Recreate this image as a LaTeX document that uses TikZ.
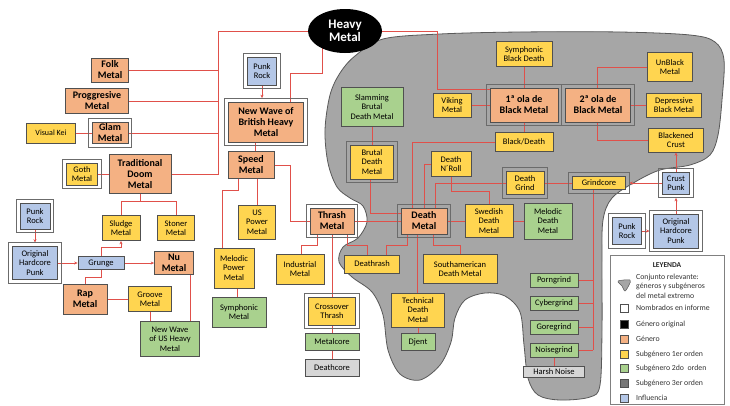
\documentclass[tikz,border=0pt]{standalone}
\usepackage{fontspec}
\setmainfont{Carlito}
\usetikzlibrary{arrows.meta,calc,shapes.geometric}
\definecolor{orng}{HTML}{F4B183}
\definecolor{yel}{HTML}{FFD550}
\definecolor{grn}{HTML}{A9D18E}
\definecolor{blu}{HTML}{B4C7E7}
\definecolor{blobc}{HTML}{A6A6A6}
\definecolor{blobline}{HTML}{595959}
\definecolor{lgray}{HTML}{D6D6D6}
\definecolor{dgray}{HTML}{777777}
\definecolor{redl}{HTML}{E0504A}
\definecolor{boxc}{HTML}{505050}
\definecolor{framec}{HTML}{6B6B6B}
\pgfdeclarelayer{blobl}
\pgfdeclarelayer{edges}
\pgfsetlayers{blobl,edges,main}
\begin{document}
\begin{tikzpicture}[x=1pt,y=-1pt,
  box/.style={draw=boxc, line width=0.7pt, align=center, inner sep=1pt, text=black, font=\fontsize{8.5}{9.3}\selectfont},
  gen/.style={box, fill=orng, font=\bfseries\fontsize{10}{11}\selectfont},
  sub1/.style={box, fill=yel},
  sub2/.style={box, fill=grn},
  sub3/.style={box, fill=lgray},
  inf/.style={box, fill=blu},
  ln/.style={draw=redl, line width=0.6pt},
  arr/.style={ln, -{Stealth[length=3.5pt,width=3pt]}},
  frame/.style={draw=framec, line width=0.9pt},
  sz/.style 2 args={minimum width=#1, minimum height=#2},
  legt/.style={anchor=west, inner sep=0pt, text=black!80, font=\fontsize{7.8}{9.5}\selectfont, align=left},
  legi/.style={draw=boxc, line width=0.6pt, minimum size=8, inner sep=0pt}
]
\useasboundingbox (0,0) rectangle (730,405);

% background and blob of extreme metal
\begin{pgfonlayer}{blobl}
\fill[white] (0,0) rectangle (730,405);
\draw[fill=blobc, draw=blobline, line width=0.8pt] plot[smooth cycle, tension=0.55] coordinates {
(383,39) (440,34) (520,32) (620,32) (690,35) (715,42) (724,60) (722,100) (718,135) (710,155) (690,165) (660,170) (635,182) (612,198) (603,220) (602,260) (602,330) (600,385) (590,397) (560,400) (538,395) (528,378) (524,345) (520,312) (505,296) (485,293) (465,300) (455,318) (451,342) (440,365) (420,380) (400,374) (388,350) (383,315) (372,292) (352,277) (339,262) (343,247) (358,238) (367,222) (363,206) (350,198) (337,187) (328,163) (325,130) (330,95) (340,73) (355,56)};
\end{pgfonlayer}

% nodes
\node[ellipse, fill=black, minimum width=74, minimum height=44, inner sep=0pt, text=white, align=center, font=\bfseries\fontsize{13}{13.5}\selectfont] (hm) at (345,31) {Heavy\\Metal};

\node[gen, sz={37}{24}] (folk) at (110,70) {Folk\\Metal};
\node[gen, sz={63}{25}] (prog) at (97,101) {Proggresive\\Metal};
\node[gen, sz={36}{21}] (glam) at (110,133) {Glam\\Metal};
\node[sub1, sz={49}{20}, font=\fontsize{8}{9}\selectfont] (vk) at (51,133) {Visual Kei};
\node[gen, sz={62}{39}] (doom) at (140,174) {Traditional\\Doom\\Metal};
\node[sub1, sz={31}{22}] (goth) at (82,174) {Goth\\Metal};
\node[sub1, sz={38}{25}] (sludge) at (121,228) {Sludge\\Metal};
\node[sub1, sz={37}{25}] (stoner) at (176,228) {Stoner\\Metal};
\node[inf, sz={30}{26}] (punkl) at (35,216) {Punk\\Rock};
\node[inf, sz={45}{33}] (ohpl) at (35,263) {Original\\Hardcore\\Punk};
\node[inf, sz={46}{13}] (grunge) at (101,263) {Grunge};
\node[gen, sz={39}{23}] (nu) at (174,263) {Nu\\Metal};
\node[gen, sz={44}{30}] (rap) at (85,299) {Rap\\Metal};
\node[sub1, sz={43}{25}] (groove) at (150,299) {Groove\\Metal};
\node[sub2, sz={59}{35}] (nwus) at (170,339) {New Wave\\of US Heavy\\Metal};

\node[inf, sz={29}{28}] (punkt) at (262,71) {Punk\\Rock};
\node[gen, sz={75}{40}] (nwob) at (266,122) {New Wave of\\British Heavy\\Metal};
\node[gen, sz={46}{27}] (speed) at (251,165) {Speed\\Metal};
\node[sub1, sz={37}{34}] (uspow) at (257,222) {US\\Power\\Metal};
\node[sub1, sz={40}{40}] (mpm) at (234,268) {Melodic\\Power\\Metal};
\node[sub2, sz={54}{30}] (symph) at (239,312) {Symphonic\\Metal};
\node[gen, sz={44}{26}] (thrash) at (332,221) {Thrash\\Metal};
\node[sub1, sz={48}{30}] (indus) at (300,269) {Industrial\\Metal};
\node[sub1, sz={55}{18}] (deathrash) at (372,264) {Deathrash};
\node[sub1, sz={47}{28}] (cross) at (332,311) {Crossover\\Thrash};
\node[sub2, sz={54}{17}] (metalcore) at (332,342) {Metalcore};
\node[sub3, sz={54}{17}] (deathcore) at (332,368) {Deathcore};

\node[sub2, sz={62}{39}] (slam) at (372,107) {Slamming\\Brutal\\Death Metal};
\node[sub1, sz={43}{34}] (brutal) at (372,162) {Brutal\\Death\\Metal};
\node[gen, sz={46}{26}] (death) at (424,221) {Death\\Metal};
\node[sub1, sz={74}{29}] (south) at (460,269) {Southamerican\\Death Metal};
\node[sub1, sz={53}{34}] (tdm) at (418,310) {Technical\\Death\\Metal};
\node[sub2, sz={34}{17}] (djent) at (418,342) {Djent};
\node[sub1, sz={38}{24}] (viking) at (452,105) {Viking\\Metal};
\node[gen, sz={68}{34}] (first) at (524,105) {1ª ola de\\Black Metal};
\node[gen, sz={65}{34}] (second) at (598,105) {2ª ola de\\Black Metal};
\node[sub1, sz={56}{25}] (sbd) at (524,54) {Symphonic\\Black Death};
\node[sub1, sz={58}{19}] (bd) at (524,142) {Black/Death};
\node[sub1, sz={45}{29}] (unblack) at (670,67) {UnBlack\\Metal};
\node[sub1, sz={55}{24}] (depr) at (674,105) {Depressive\\Black Metal};
\node[sub1, sz={55}{24}] (bcrust) at (676,140) {Blackened\\Crust};
\node[sub1, sz={40}{25}] (dnr) at (451,164) {Death\\N´Roll};
\node[sub1, sz={48}{33}] (swed) at (489,221) {Swedish\\Death\\Metal};
\node[sub2, sz={48}{36}] (melo) at (548,221) {Melodic\\Death\\Metal};
\node[sub1, sz={38}{23}] (dgrind) at (525,183) {Death\\Grind};
\node[sub1, sz={53}{13}] (grind) at (599,183) {Grindcore};
\node[inf, sz={27}{22}] (crust) at (676,183) {Crust\\Punk};
\node[inf, sz={45}{34}] (ohpr) at (676,231) {Original\\Hardcore\\Punk};
\node[inf, sz={29}{27}] (punkr) at (627,231) {Punk\\Rock};
\node[sub2, sz={48}{14}] (porn) at (554,280) {Porngrind};
\node[sub2, sz={48}{14}] (cyber) at (554,303) {Cybergrind};
\node[sub2, sz={48}{14}] (gore) at (554,327) {Goregrind};
\node[sub2, sz={48}{14}] (noise) at (554,350) {Noisegrind};
\node[sub3, sz={61}{11}] (harsh) at (554,372) {Harsh Noise};

% frames for "nombrados en informe"
\foreach \n in {glam,goth,punkl,ohpl,punkt,nwob,thrash,cross,brutal,death,first,second,dgrind,grind,crust,ohpr,punkr}
  \draw[frame] ($(\n.north west)+(-3.5pt,3.5pt)$) rectangle ($(\n.south east)+(3.5pt,-3.5pt)$);

% helper coordinates
\foreach \v in {190,218,222,237,238,255,290,301,317,322,347,367,370,386,407,412,417,424,433,435,437,593,597}
  \coordinate (x\v) at (\v,0);
\foreach \v in {73,89,190,191,201,213,245,247,277}
  \coordinate (y\v) at (0,\v);

% connectors
\begin{pgfonlayer}{edges}
\draw[ln] (hm) -| (doom.east -| x218) -- (doom.east);
\foreach \n in {folk,prog,glam} \draw[ln] (\n.east) -- (\n.east -| x218);
\draw[ln] (vk) -- (glam);
\draw[ln] (goth) -- (doom);
\draw[ln] (doom.south) -- (doom.south |- y201) -| (sludge.north);
\draw[ln] (doom.south |- y201) -| (stoner.north);
\draw[arr, shorten >=3.5pt] (punkl.south) -- (ohpl.north);
\draw[arr] (ohpl.east) -- (grunge.west);
\draw[arr] (grunge.east) -- (nu.west);
\draw[arr] (grunge.north) -- (grunge.north |- y247) -| (sludge.south);
\draw[ln] (grunge.south) -- (grunge.south |- y277) -| (rap.north);
\draw[ln] (rap) -- (groove);
\draw[ln] (groove) -- (groove |- nwus.north);
\draw[ln] (nu.south -| x190) -- (nwus.north -| x190);

\draw[ln] (hm.center -| x322) |- (x290 |- y73) -- (nwob.north -| x290);
\draw[arr, shorten >=3.5pt] (punkt.south) -- (punkt |- nwob.north);
\draw[ln] (nwob.south -| x255) -- (speed.north -| x255);
\draw[ln] (speed.east) -| (thrash.west -| x290) -- (thrash.west);
\draw[ln] (speed.south -| uspow) -- (uspow.north);
\draw[ln] (speed.south -| x238) -- (x238 |- y190) -| (mpm.north -| x222);
\draw[ln] (mpm.south -| x237) -- (symph.north -| x237);
\draw[ln] (thrash.south -| x317) -- (x317 |- y245) -| (indus.north -| x301);
\draw[ln] (thrash) -- (cross);
\draw[ln] (thrash.south -| x347) -- (x347 |- y245) -| (deathrash.north -| x367);
\draw[ln] (thrash) -- (death);
\draw[ln] (cross) -- (metalcore) -- (deathcore);

\draw[ln] (slam) -- (brutal);
\draw[ln] (brutal.south -| x370) -- (x370 |- y213) -- (death.west |- y213);
\draw[ln] (death.south -| x407) -- (x407 |- y245) -| (deathrash.north -| x386);
\draw[ln] (death.south -| x417) -- (tdm.north -| x417);
\draw[ln] (tdm) -- (djent);
\draw[ln] (death.south -| x433) -- (x433 |- y245) -| (south.north);
\draw[ln] (death) -- (swed);
\draw[ln] (swed) -- (melo);
\draw[ln] (death.north -| x412) |- (bd.west);
\draw[ln] (death.north -| x424) |- (dnr.west);
\draw[ln] (death.north -| x435) |- (dgrind.west);
\draw[ln] (dnr.south) -- (dnr.south |- y191) -| (swed.north);
\draw[ln] (dgrind) -- (grind);
\draw[ln] (bd) -- (first);
\draw[ln] (sbd) -- (first);
\draw[ln] (viking) -- (first);
\draw[ln] (hm) -| (x437 |- y89) -- (first.west |- y89);
\draw[ln] (second.north -| x597) |- (unblack.west);
\draw[ln] (second) -- (depr);
\draw[ln] (second.south -| x597) |- (bcrust.west);
\draw[arr] (crust.north) -- (bcrust.south);
\draw[arr, shorten >=3.5pt] (crust.west) -- (grind.east);
\draw[arr, shorten >=3.5pt] (ohpr.north) -- (crust.south);
\draw[arr, shorten >=3.5pt] (punkr.east) -- (ohpr.west);
\draw[ln] (grind.south -| x593) -- (noise.east -| x593);
\foreach \g in {porn,cyber,gore,noise} \draw[ln] (\g.east) -- (\g.east -| x593);
\draw[ln] (noise) -- (harsh);
\end{pgfonlayer}

% legend
\draw[draw=gray, line width=0.9pt, fill=white] (610,255) rectangle (724,404);
\node[inner sep=0pt, font=\bfseries\fontsize{7.5}{8}\selectfont, text=black!85] (legh) at (667,265) {LEYENDA};
\draw[fill=blobc, draw=blobline, line width=0.5pt] plot[smooth cycle, tension=0.5] coordinates {(618,281) (630,280) (629,285) (625,291) (622,286)};
\node[legt] (l0) at (636,286) {Conjunto relevante:\\géneros y subgéneros\\del metal extremo};
\node[legi, fill=white, line width=1pt] (i1) at (624,308) {};
\node[legt] (l1) at (636,308) {Nombrados en informe};
\node[legi, fill=black] (i2) at (624,324) {};
\node[legt] (l2) at (636,324) {Género original};
\node[legi, fill=orng] (i3) at (624,339) {};
\node[legt] (l3) at (636,339) {Género};
\node[legi, fill=yel] (i4) at (624,354) {};
\node[legt] (l4) at (636,354) {Subgénero 1er orden};
\node[legi, fill=grn] (i5) at (624,368) {};
\node[legt] (l5) at (636,368) {Subgénero 2do\ \ orden};
\node[legi, fill=dgray] (i6) at (624,383) {};
\node[legt] (l6) at (636,383) {Subgénero 3er orden};
\node[legi, fill=blu] (i7) at (624,398) {};
\node[legt] (l7) at (636,398) {Influencia};
\end{tikzpicture}
\end{document}
